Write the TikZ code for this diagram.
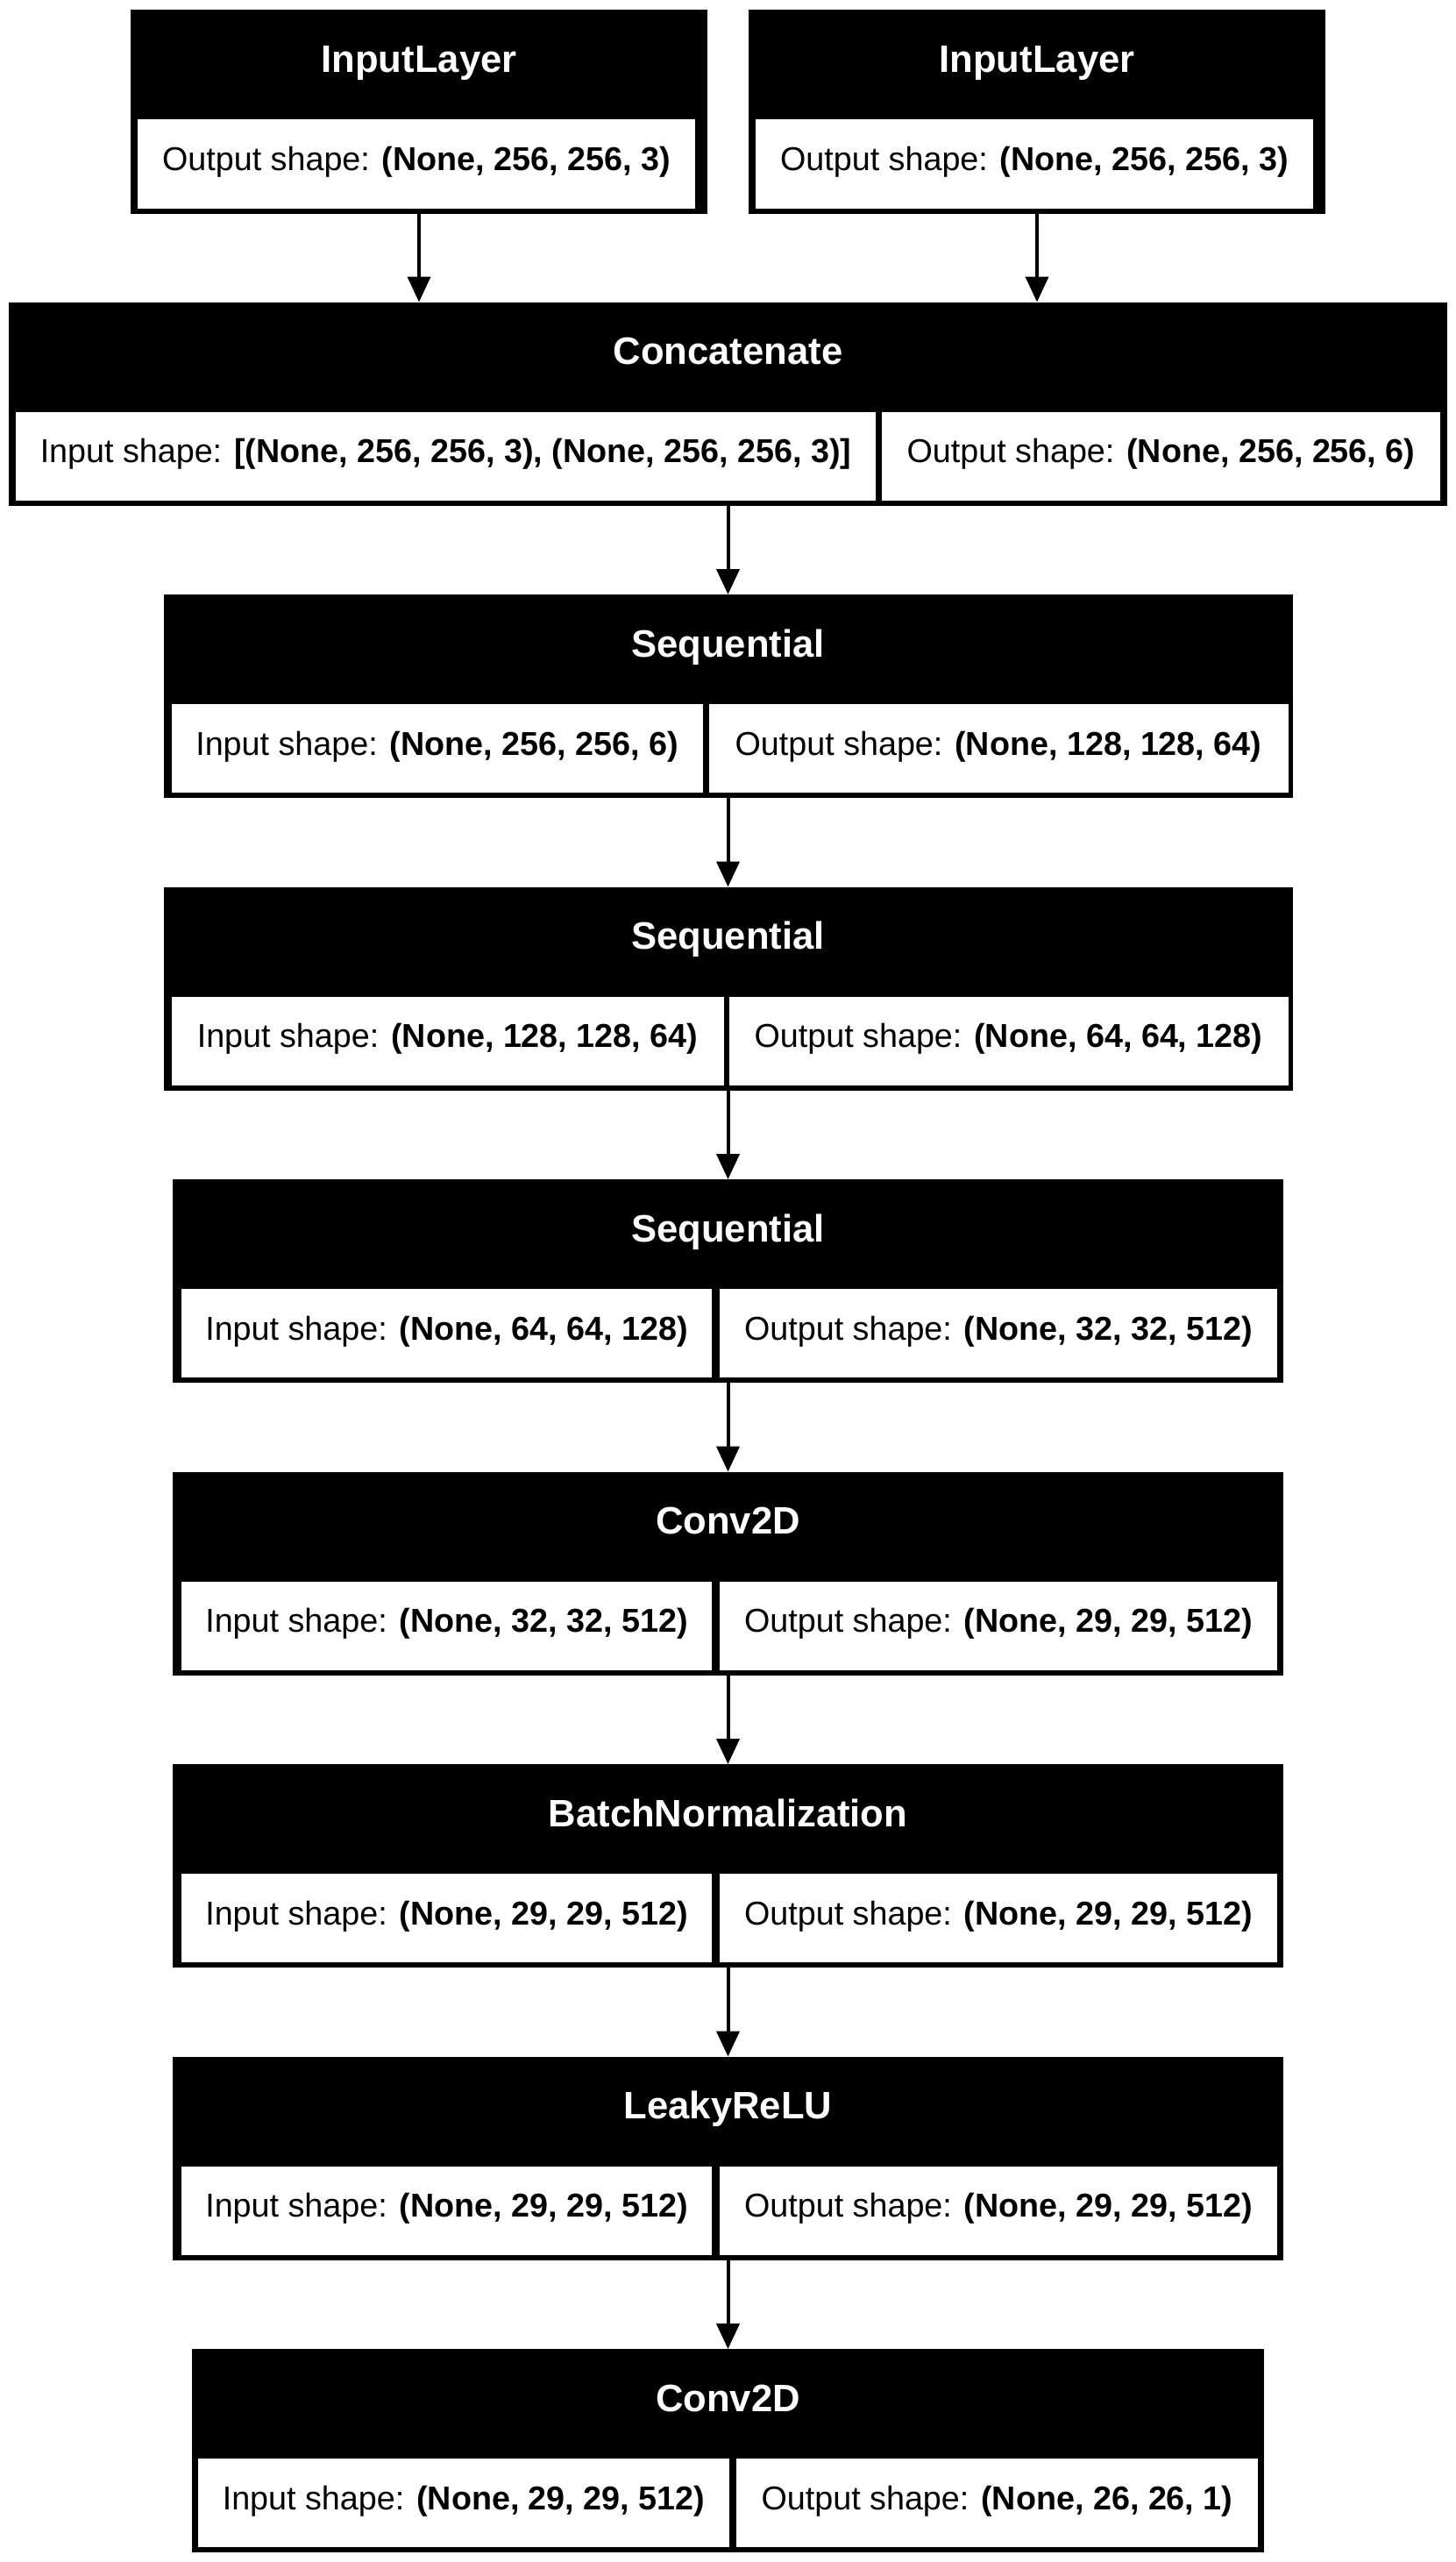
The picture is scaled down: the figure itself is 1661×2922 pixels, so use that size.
\documentclass[tikz,border=0pt]{standalone}
\usepackage{fontspec}
\setmainfont{Liberation Sans}
\usetikzlibrary{positioning, arrows.meta}

\begin{document}
\begin{tikzpicture}[x=1pt, y=-1pt,
    layer/.style={fill=black, inner sep=0pt, outer sep=0pt, minimum height=232pt},
    title/.style={anchor=base, inner sep=0pt, text=white,
                  font=\fontsize{43.6}{52}\selectfont\bfseries},
    cell/.style={fill=white, inner sep=0pt, outer sep=0pt, minimum height=101pt,
                 text height=27pt, text depth=12pt, font=\fontsize{37.7}{45}\selectfont},
    conn/.style={line width=4pt, -{Triangle[length=29pt, width=26pt]}}
  ]
  \useasboundingbox (0,0) rectangle (1661,2922);

  % inputs
  \node[layer, minimum width=658pt, anchor=north] (in1) at (478,11.5) {};
  \node[below=71pt of in1.north, title] (in1t) {InputLayer};
  \node[cell, minimum width=636pt, below right=125pt and 8pt of in1.north west] (in1out)
    {Output shape: \textbf{(None, 256, 256, 3)}};

  \node[layer, minimum width=658pt, anchor=north] (in2) at (1183,11.5) {};
  \node[below=71pt of in2.north, title] (in2t) {InputLayer};
  \node[cell, minimum width=636pt, below right=125pt and 8pt of in2.north west] (in2out)
    {Output shape: \textbf{(None, 256, 256, 3)}};

  % concatenate
  \node[layer, minimum width=1641pt, anchor=north] (cat) at (830.5,344.5) {};
  \node[below=71pt of cat.north, title] (catt) {Concatenate};
  \node[cell, minimum width=981pt, below right=125pt and 8pt of cat.north west] (catin)
    {Input shape: \textbf{[(None, 256, 256, 3), (None, 256, 256, 3)]}};
  \node[cell, minimum width=637pt, below left=125pt and 8pt of cat.north east] (catout)
    {Output shape: \textbf{(None, 256, 256, 6)}};

  % sequential blocks
  \node[layer, minimum width=1288pt, below=101.5pt of cat] (seq1) {};
  \node[below=71pt of seq1.north, title] (seq1t) {Sequential};
  \node[cell, minimum width=606pt, below right=125pt and 9pt of seq1.north west] (seq1in)
    {Input shape: \textbf{(None, 256, 256, 6)}};
  \node[cell, minimum width=661pt, below left=125pt and 5pt of seq1.north east] (seq1out)
    {Output shape: \textbf{(None, 128, 128, 64)}};

  \node[layer, minimum width=1288pt, below=101.5pt of seq1] (seq2) {};
  \node[below=71pt of seq2.north, title] (seq2t) {Sequential};
  \node[cell, minimum width=630pt, below right=125pt and 9pt of seq2.north west] (seq2in)
    {Input shape: \textbf{(None, 128, 128, 64)}};
  \node[cell, minimum width=638pt, below left=125pt and 5pt of seq2.north east] (seq2out)
    {Output shape: \textbf{(None, 64, 64, 128)}};

  \node[layer, minimum width=1267pt, below=101.5pt of seq2] (seq3) {};
  \node[below=71pt of seq3.north, title] (seq3t) {Sequential};
  \node[cell, minimum width=605pt, below right=125pt and 10pt of seq3.north west] (seq3in)
    {Input shape: \textbf{(None, 64, 64, 128)}};
  \node[cell, minimum width=636pt, below left=125pt and 7pt of seq3.north east] (seq3out)
    {Output shape: \textbf{(None, 32, 32, 512)}};

  % head
  \node[layer, minimum width=1267pt, below=101.5pt of seq3] (conv1) {};
  \node[below=71pt of conv1.north, title] (conv1t) {Conv2D};
  \node[cell, minimum width=605pt, below right=125pt and 10pt of conv1.north west] (conv1in)
    {Input shape: \textbf{(None, 32, 32, 512)}};
  \node[cell, minimum width=636pt, below left=125pt and 7pt of conv1.north east] (conv1out)
    {Output shape: \textbf{(None, 29, 29, 512)}};

  \node[layer, minimum width=1267pt, below=101.5pt of conv1] (bn) {};
  \node[below=71pt of bn.north, title] (bnt) {BatchNormalization};
  \node[cell, minimum width=605pt, below right=125pt and 10pt of bn.north west] (bnin)
    {Input shape: \textbf{(None, 29, 29, 512)}};
  \node[cell, minimum width=636pt, below left=125pt and 7pt of bn.north east] (bnout)
    {Output shape: \textbf{(None, 29, 29, 512)}};

  \node[layer, minimum width=1267pt, below=101.5pt of bn] (leaky) {};
  \node[below=71pt of leaky.north, title] (leakyt) {LeakyReLU};
  \node[cell, minimum width=605pt, below right=125pt and 10pt of leaky.north west] (leakyin)
    {Input shape: \textbf{(None, 29, 29, 512)}};
  \node[cell, minimum width=636pt, below left=125pt and 7pt of leaky.north east] (leakyout)
    {Output shape: \textbf{(None, 29, 29, 512)}};

  \node[layer, minimum width=1223pt, below=101.5pt of leaky] (conv2) {};
  \node[below=71pt of conv2.north, title] (conv2t) {Conv2D};
  \node[cell, minimum width=606pt, below right=125pt and 7pt of conv2.north west] (conv2in)
    {Input shape: \textbf{(None, 29, 29, 512)}};
  \node[cell, minimum width=595pt, below left=125pt and 7pt of conv2.north east] (conv2out)
    {Output shape: \textbf{(None, 26, 26, 1)}};

  % connections
  \draw[conn] (in1.south) -- (in1.south |- cat.north);
  \draw[conn] (in2.south) -- (in2.south |- cat.north);
  \draw[conn] (cat) -- (seq1);
  \draw[conn] (seq1) -- (seq2);
  \draw[conn] (seq2) -- (seq3);
  \draw[conn] (seq3) -- (conv1);
  \draw[conn] (conv1) -- (bn);
  \draw[conn] (bn) -- (leaky);
  \draw[conn] (leaky) -- (conv2);
\end{tikzpicture}
\end{document}
